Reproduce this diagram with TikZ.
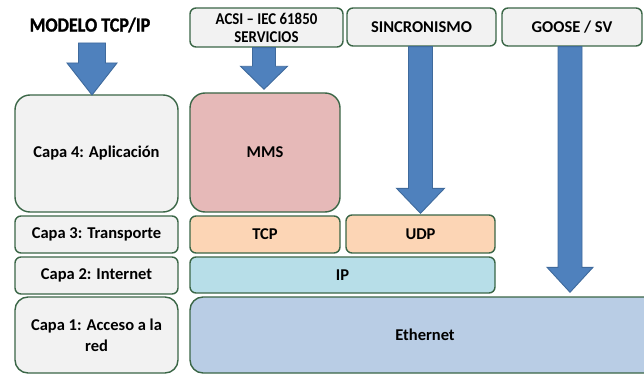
\documentclass[tikz,border=0pt]{standalone}
\usepackage{fontspec}
\setmainfont{Carlito}
\newfontfamily\titlefont[FakeStretch=0.9,FakeBold=1.2]{Carlito}
\usetikzlibrary{calc}
\newcommand\acsitxt[1]{\scalebox{0.9}[1]{#1}}
\definecolor{boxgray}{HTML}{F2F2F2}
\definecolor{boxedge}{RGB}{58,102,70}
\definecolor{arrfill}{HTML}{4F81BD}
\definecolor{arredge}{HTML}{3F6A9C}
\definecolor{mmsfill}{HTML}{E6B9B8}
\definecolor{tcpfill}{HTML}{FCD5B5}
\definecolor{ipfill}{HTML}{B7DEE8}
\definecolor{ethfill}{HTML}{B9CDE5}
\tikzset{
  layerbox/.style={draw=boxedge, line width=1.4pt, rounded corners=#1, inner sep=0pt, align=center, font=\bfseries\fontsize{16.5}{21}\selectfont},
  layerbox/.default=6pt,
  leftbox/.style={layerbox=#1, fill=boxgray, minimum width=163pt},
  leftbox/.default=6pt,
  blockarr/.style={fill=arrfill, draw=arredge, line width=0.9pt, line join=miter},
}
% #1 top point, #2 tip point, #3 shaft half width, #4 head half width, #5 head length
\newcommand\myblockarrow[5]{%
  \path let \p1=(#1), \p2=(#2) in
    [blockarr] (\x2-#3pt,\y1) -- (\x2+#3pt,\y1) -- (\x2+#3pt,\y2+#5pt) -- (\x2+#4pt,\y2+#5pt)
    -- (\x2,\y2) -- (\x2-#4pt,\y2+#5pt) -- (\x2-#3pt,\y2+#5pt) -- cycle;}
\begin{document}
\begin{tikzpicture}[x=1pt,y=-1pt]
\useasboundingbox (0,0) rectangle (644,374);
\clip (0,0) rectangle (644,374);
% title
\node[font=\titlefont\bfseries\fontsize{20}{22}\selectfont] (modelo) at (90,25) {MODELO TCP/IP};
% top boxes
\node[layerbox, fill=boxgray, minimum width=153pt, minimum height=39pt, font=\bfseries\fontsize{16.5}{18}\selectfont] (acsi) at (266.5,27.5) {\acsitxt{ACSI \textendash{} IEC 61850}\\\acsitxt{SERVICIOS}};
\node[layerbox, fill=boxgray, minimum width=149pt, minimum height=38pt] (sinc) at (421.5,27) {SINCRONISMO};
\node[layerbox, fill=boxgray, minimum width=140pt, minimum height=38pt] (goose) at (572,27) {GOOSE / SV};
% left layers
\node[leftbox=15pt, minimum height=117pt] (capa4) at (96.5,153.5) {Capa 4: Aplicación};
\node[leftbox, minimum height=37pt] (capa3) at (96.5,234.5) {Capa 3: Transporte};
\node[leftbox, minimum height=37pt] (capa2) at (96.5,275.5) {Capa 2: Internet};
\node[leftbox=13pt, minimum height=76pt] (capa1) at (96.5,335) {Capa 1: Acceso a la\\red};
% protocol boxes
\node[layerbox=15pt, fill=mmsfill, minimum width=150pt, minimum height=119pt] (mms) at (265,152.5) {MMS};
\node[layerbox, fill=tcpfill, minimum width=150pt, minimum height=37pt] (tcp) at (265,234.5) {TCP};
\node[layerbox, fill=tcpfill, minimum width=149pt, minimum height=38pt] (udp) at (420.5,234) {UDP};
\node[layerbox, fill=ipfill, minimum width=305pt, minimum height=36pt] (ip) at (342.5,275) {IP};
\node[layerbox=13pt, fill=ethfill, minimum width=470pt, minimum height=76pt] (eth) at (425,335) {Ethernet};
% arrows
\coordinate (a1top) at (92,43);
\coordinate (a1tip) at (92,95);
\myblockarrow{a1top}{a1tip}{13.5}{25}{32}
\myblockarrow{acsi.south}{$(mms.north)+(-1,-3)$}{11.5}{23.5}{23}
\myblockarrow{sinc.south}{$(udp.north)+(0,-1)$}{12}{24}{25}
\myblockarrow{goose.south}{$(goose.south |- eth.north)+(-2,-4)$}{12}{23}{25}
\end{tikzpicture}
\end{document}
